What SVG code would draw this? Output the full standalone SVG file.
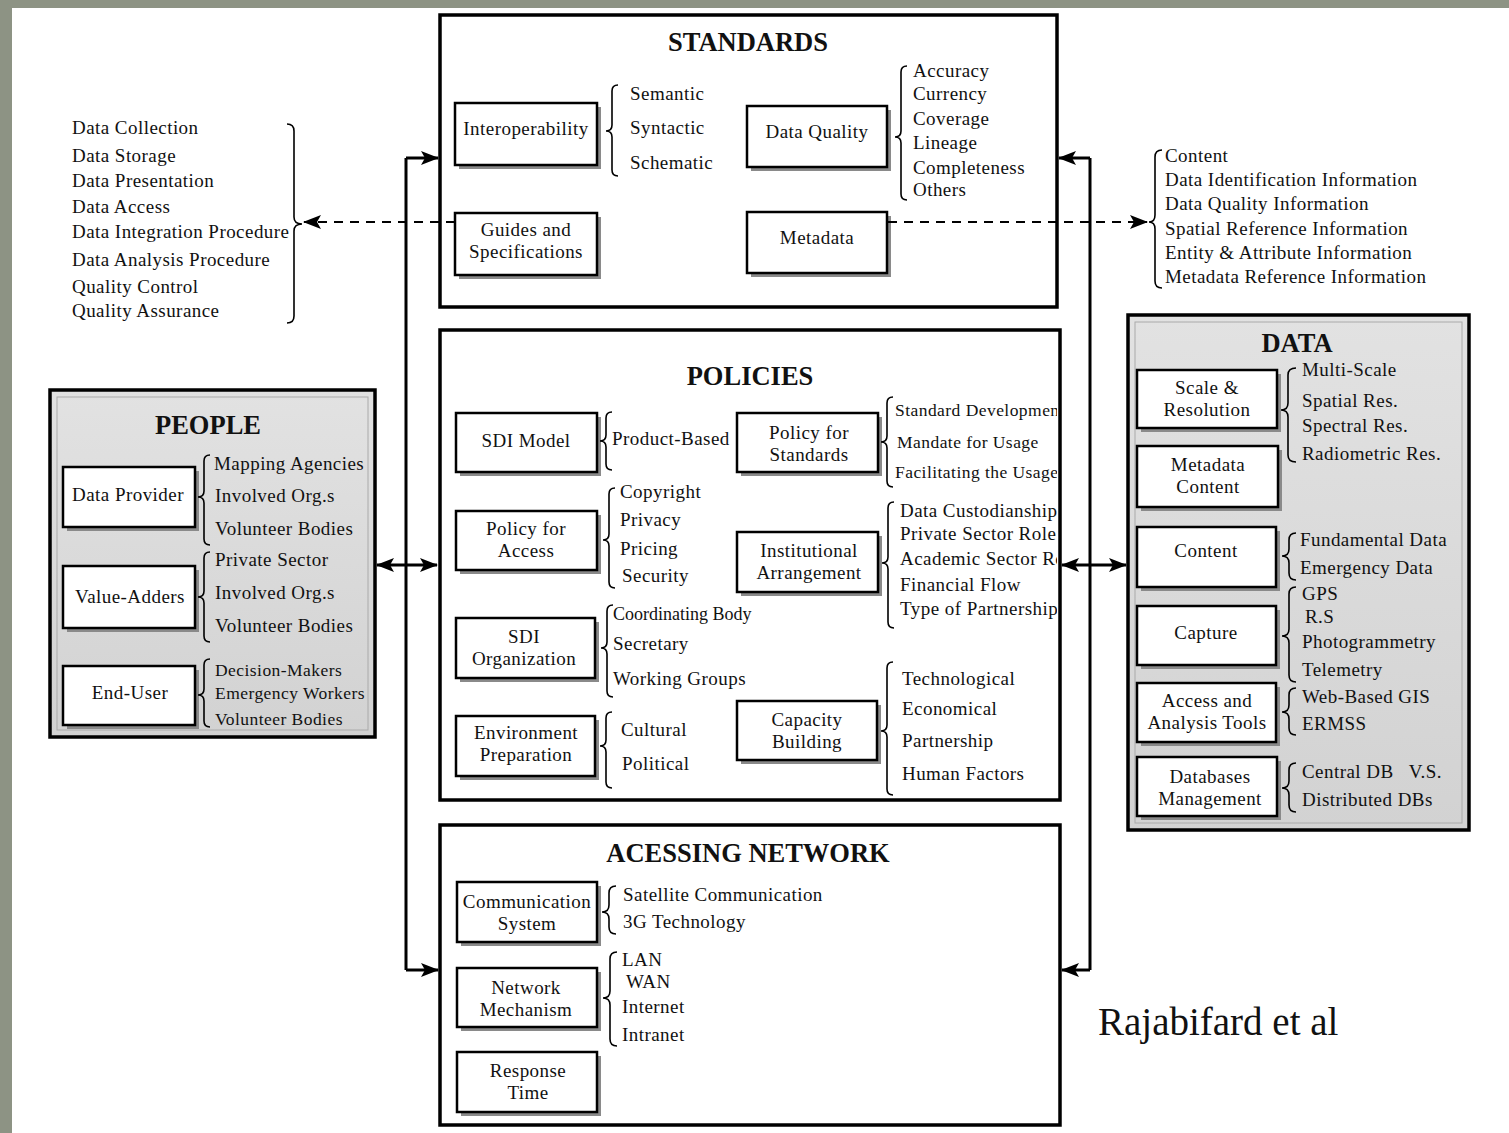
<svg xmlns="http://www.w3.org/2000/svg" width="1509" height="1133" viewBox="0 0 1509 1133">
<style>
.t{font-family:"Liberation Serif","Times New Roman",serif;font-size:19px;letter-spacing:0.45px;fill:#111}
.n{font-family:"Liberation Serif","Times New Roman",serif;font-size:19px;letter-spacing:0.45px;fill:#111;text-anchor:middle}
.s{font-size:17.5px}
.h{font-family:"Liberation Serif","Times New Roman",serif;font-size:26.5px;font-weight:bold;fill:#111;text-anchor:middle}
.outer{fill:#fff;stroke:#000;stroke-width:3.5}
.grey{fill:#d8d8d8;stroke:#000;stroke-width:3.5}
.inner{fill:none;stroke:#aaa;stroke-width:1}
.box{fill:#fff;stroke:#000;stroke-width:2.5}
.sh{fill:#8a8a8a}
.br{fill:none;stroke:#000;stroke-width:1.6}
.con{fill:none;stroke:#000;stroke-width:3}
.dash{fill:none;stroke:#000;stroke-width:2;stroke-dasharray:9 7}
</style>
<defs>
<marker id="ah" markerUnits="userSpaceOnUse" markerWidth="18" markerHeight="14" refX="17" refY="7" orient="auto-start-reverse">
<path d="M0,0 L18,7 L0,14 L4,7 Z" fill="#000"/>
</marker>
<linearGradient id="gg" x1="0" y1="0" x2="0" y2="1">
<stop offset="0" stop-color="#e2e2e2"/><stop offset="1" stop-color="#d2d2d2"/>
</linearGradient>
<clipPath id="cpPol"><rect x="440" y="330" width="617" height="470"/></clipPath>
<clipPath id="cpPeo"><rect x="50" y="390" width="319" height="347"/></clipPath>
</defs>
<rect x="0" y="0" width="1509" height="1133" fill="#8d9384"/>
<rect x="12" y="8" width="1497" height="1125" fill="#fff"/>

<g id="processes">
<text class="t" x="72" y="134">Data Collection</text>
<text class="t" x="72" y="162">Data Storage</text>
<text class="t" x="72" y="187">Data Presentation</text>
<text class="t" x="72" y="213">Data Access</text>
<text class="t" x="72" y="238">Data Integration Procedure</text>
<text class="t" x="72" y="266">Data Analysis Procedure</text>
<text class="t" x="72" y="293">Quality Control</text>
<text class="t" x="72" y="317">Quality Assurance</text>
<path class="br" d="M287,124 Q294,124 294,131 L294,217 Q294,224 302,224 Q294,224 294,231 L294,316 Q294,323 287,323"/>
</g>

<g id="metadata-elements">
<path class="br" d="M1162,150 Q1155,150 1155,157 L1155,215 Q1155,222 1149,222 Q1155,222 1155,229 L1155,281 Q1155,288 1162,288"/>
<text class="t" x="1165" y="162">Content</text>
<text class="t" x="1165" y="186">Data Identification Information</text>
<text class="t" x="1165" y="210">Data Quality Information</text>
<text class="t" x="1165" y="235">Spatial Reference Information</text>
<text class="t" x="1165" y="259">Entity &amp; Attribute Information</text>
<text class="t" x="1165" y="283">Metadata Reference Information</text>
</g>

<g id="standards">
<rect class="outer" x="440" y="15" width="617" height="292"/>
<text class="h" x="748" y="51">STANDARDS</text>
<g id="interoperability">
<rect class="sh" x="459" y="107" width="142" height="62"/><rect class="box" x="455" y="103" width="142" height="62"/>
<text class="n" x="526" y="135">Interoperability</text>
</g>
<path class="br" d="M618,85 Q612,85 612,91 L612,125 Q612,131 606,131 Q612,131 612,137 L612,170 Q612,176 618,176"/>
<text class="t" x="630" y="100">Semantic</text>
<text class="t" x="630" y="134">Syntactic</text>
<text class="t" x="630" y="169">Schematic</text>
<g id="guides">
<rect class="sh" x="459" y="217" width="142" height="62"/><rect class="box" x="455" y="213" width="142" height="62"/>
<text class="n" x="526" y="236">Guides and</text><text class="n" x="526" y="258">Specifications</text>
</g>
<g id="data-quality">
<rect class="sh" x="751" y="110" width="140" height="61"/><rect class="box" x="747" y="106" width="140" height="61"/>
<text class="n" x="817" y="138">Data Quality</text>
</g>
<path class="br" d="M907,66 Q901,66 901,72 L901,131 Q901,137 895,137 Q901,137 901,143 L901,194 Q901,200 907,200"/>
<text class="t" x="913" y="77">Accuracy</text>
<text class="t" x="913" y="100">Currency</text>
<text class="t" x="913" y="125">Coverage</text>
<text class="t" x="913" y="149">Lineage</text>
<text class="t" x="913" y="174">Completeness</text>
<text class="t" x="913" y="196">Others</text>
<g id="metadata">
<rect class="sh" x="751" y="216" width="140" height="61"/><rect class="box" x="747" y="212" width="140" height="61"/>
<text class="n" x="817" y="244">Metadata</text>
</g>
</g>

<g id="policies">
<rect class="outer" x="440" y="330" width="620" height="470"/>
<text class="h" x="750" y="385">POLICIES</text>
<g id="sdi-model">
<rect class="sh" x="460" y="417" width="141" height="59"/><rect class="box" x="456" y="413" width="141" height="59"/>
<text class="n" x="526" y="447">SDI Model</text>
</g>
<path class="br" d="M612,412 Q606,412 606,418 L606,435 Q606,441 600,441 Q606,441 606,447 L606,464 Q606,470 612,470"/>
<text class="t" x="612" y="445">Product-Based</text>
<g id="policy-access">
<rect class="sh" x="460" y="515" width="141" height="59"/><rect class="box" x="456" y="511" width="141" height="59"/>
<text class="n" x="526" y="535">Policy for</text><text class="n" x="526" y="557">Access</text>
</g>
<path class="br" d="M615,488 Q609,488 609,494 L609,534 Q609,540 603,540 Q609,540 609,546 L609,582 Q609,588 615,588"/>
<text class="t" x="620" y="498">Copyright</text>
<text class="t" x="620" y="526">Privacy</text>
<text class="t" x="620" y="555">Pricing</text>
<text class="t" x="622" y="582">Security</text>
<g id="sdi-organization">
<rect class="sh" x="460" y="622" width="139" height="60"/><rect class="box" x="456" y="618" width="139" height="60"/>
<text class="n" x="524" y="643">SDI</text><text class="n" x="524" y="665">Organization</text>
</g>
<path class="br" d="M613,605 Q607,605 607,611 L607,642 Q607,648 601,648 Q607,648 607,654 L607,691 Q607,697 613,697"/>
<text class="t" x="613" y="620" style="font-size:18px;letter-spacing:0">Coordinating Body</text>
<text class="t" x="613" y="650">Secretary</text>
<text class="t" x="613" y="685">Working Groups</text>
<g id="environment-preparation">
<rect class="sh" x="460" y="720" width="139" height="60"/><rect class="box" x="456" y="716" width="139" height="60"/>
<text class="n" x="526" y="739">Environment</text><text class="n" x="526" y="761">Preparation</text>
</g>
<path class="br" d="M612,712 Q606,712 606,718 L606,740 Q606,746 600,746 Q606,746 606,752 L606,782 Q606,788 612,788"/>
<text class="t" x="621" y="736">Cultural</text>
<text class="t" x="622" y="770">Political</text>
<g id="policy-standards">
<rect class="sh" x="741" y="417" width="141" height="59"/><rect class="box" x="737" y="413" width="141" height="59"/>
<text class="n" x="809" y="439">Policy for</text><text class="n" x="809" y="461">Standards</text>
</g>
<path class="br" d="M893,397 Q887,397 887,403 L887,436 Q887,442 881,442 Q887,442 887,448 L887,481 Q887,487 893,487"/>
<g clip-path="url(#cpPol)">
<text class="t s" x="895" y="416">Standard Development</text>
<text class="t s" x="897" y="448">Mandate for Usage</text>
<text class="t s" x="895" y="478">Facilitating the Usage</text>
<text class="t" x="900" y="517">Data Custodianship</text>
<text class="t" x="900" y="540">Private Sector Role</text>
<text class="t" x="900" y="565">Academic Sector Role</text>
<text class="t" x="900" y="591">Financial Flow</text>
<text class="t" x="900" y="615">Type of Partnership</text>
</g>
<g id="institutional-arrangement">
<rect class="sh" x="741" y="536" width="141" height="60"/><rect class="box" x="737" y="532" width="141" height="60"/>
<text class="n" x="809" y="557">Institutional</text><text class="n" x="809" y="579">Arrangement</text>
</g>
<path class="br" d="M894,502 Q888,502 888,508 L888,557 Q888,563 882,563 Q888,563 888,569 L888,622 Q888,628 894,628"/>
<g id="capacity-building">
<rect class="sh" x="741" y="705" width="140" height="59"/><rect class="box" x="737" y="701" width="140" height="59"/>
<text class="n" x="807" y="726">Capacity</text><text class="n" x="807" y="748">Building</text>
</g>
<path class="br" d="M893,662 Q887,662 887,668 L887,725 Q887,731 881,731 Q887,731 887,737 L887,789 Q887,795 893,795"/>
<text class="t" x="902" y="685">Technological</text>
<text class="t" x="902" y="715">Economical</text>
<text class="t" x="902" y="747">Partnership</text>
<text class="t" x="902" y="780">Human Factors</text>
</g>

<g id="people">
<rect class="grey" x="50" y="390" width="325" height="347" style="fill:url(#gg)"/>
<rect class="inner" x="57" y="397" width="311" height="333"/>
<text class="h" x="208" y="434">PEOPLE</text>
<g id="data-provider">
<rect class="sh" x="67" y="471" width="132" height="60"/><rect class="box" x="63" y="467" width="132" height="60"/>
<text class="n" x="128" y="501">Data Provider</text>
</g>
<path class="br" d="M210,455 Q204,455 204,461 L204,491 Q204,497 198,497 Q204,497 204,503 L204,539 Q204,545 210,545"/>
<g clip-path="url(#cpPeo)">
<text class="t" x="214" y="470">Mapping Agencies</text>
</g>
<text class="t" x="215" y="502">Involved Org.s</text>
<text class="t" x="215" y="535">Volunteer Bodies</text>
<g id="value-adders">
<rect class="sh" x="67" y="570" width="132" height="62"/><rect class="box" x="63" y="566" width="132" height="62"/>
<text class="n" x="130" y="603">Value-Adders</text>
</g>
<path class="br" d="M210,552 Q204,552 204,558 L204,591 Q204,597 198,597 Q204,597 204,603 L204,636 Q204,642 210,642"/>
<text class="t" x="215" y="566">Private Sector</text>
<text class="t" x="215" y="599">Involved Org.s</text>
<text class="t" x="215" y="632">Volunteer Bodies</text>
<g id="end-user">
<rect class="sh" x="67" y="670" width="132" height="59"/><rect class="box" x="63" y="666" width="132" height="59"/>
<text class="n" x="130" y="699">End-User</text>
</g>
<path class="br" d="M210,659 Q204,659 204,665 L204,689 Q204,695 198,695 Q204,695 204,701 L204,721 Q204,727 210,727"/>
<text class="t s" x="215" y="676">Decision-Makers</text>
<text class="t s" x="215" y="699">Emergency Workers</text>
<text class="t s" x="215" y="725">Volunteer Bodies</text>
</g>

<g id="data">
<rect class="grey" x="1128" y="315" width="341" height="515" style="fill:url(#gg)"/>
<rect class="inner" x="1135" y="322" width="327" height="501"/>
<text class="h" x="1297" y="352">DATA</text>
<g id="scale-resolution">
<rect class="sh" x="1141" y="374" width="140" height="58"/><rect class="box" x="1137" y="370" width="140" height="58"/>
<text class="n" x="1207" y="394">Scale &amp;</text><text class="n" x="1207" y="416">Resolution</text>
</g>
<path class="br" d="M1296,368 Q1288,368 1288,375 L1288,403 Q1288,410 1281,410 Q1288,410 1288,417 L1288,455 Q1288,462 1296,462"/>
<text class="t" x="1302" y="376">Multi-Scale</text>
<text class="t" x="1302" y="407">Spatial Res.</text>
<text class="t" x="1302" y="432">Spectral Res.</text>
<text class="t" x="1302" y="460">Radiometric Res.</text>
<g id="metadata-content">
<rect class="sh" x="1141" y="450" width="141" height="61"/><rect class="box" x="1137" y="446" width="141" height="61"/>
<text class="n" x="1208" y="471">Metadata</text><text class="n" x="1208" y="493">Content</text>
</g>
<g id="content">
<rect class="sh" x="1141" y="531" width="139" height="60"/><rect class="box" x="1137" y="527" width="139" height="60"/>
<text class="n" x="1206" y="557">Content</text>
</g>
<path class="br" d="M1296,533 Q1289,533 1289,540 L1289,549 Q1289,556 1282,556 Q1289,556 1289,563 L1289,573 Q1289,580 1296,580"/>
<text class="t" x="1300" y="546">Fundamental Data</text>
<text class="t" x="1300" y="574">Emergency Data</text>
<g id="capture">
<rect class="sh" x="1141" y="610" width="139" height="59"/><rect class="box" x="1137" y="606" width="139" height="59"/>
<text class="n" x="1206" y="639">Capture</text>
</g>
<path class="br" d="M1296,587 Q1289,587 1289,594 L1289,629 Q1289,636 1282,636 Q1289,636 1289,643 L1289,675 Q1289,682 1296,682"/>
<text class="t" x="1302" y="600">GPS</text>
<text class="t" x="1305" y="623">R.S</text>
<text class="t" x="1302" y="648">Photogrammetry</text>
<text class="t" x="1302" y="676">Telemetry</text>
<g id="access-analysis-tools">
<rect class="sh" x="1141" y="687" width="139" height="59"/><rect class="box" x="1137" y="683" width="139" height="59"/>
<text class="n" x="1207" y="707">Access and</text><text class="n" x="1207" y="729">Analysis Tools</text>
</g>
<path class="br" d="M1296,688 Q1289,688 1289,695 L1289,705 Q1289,712 1282,712 Q1289,712 1289,719 L1289,728 Q1289,735 1296,735"/>
<text class="t" x="1302" y="703">Web-Based GIS</text>
<text class="t" x="1302" y="730">ERMSS</text>
<g id="databases-management">
<rect class="sh" x="1141" y="761" width="140" height="59"/><rect class="box" x="1137" y="757" width="140" height="59"/>
<text class="n" x="1210" y="783">Databases</text><text class="n" x="1210" y="805">Management</text>
</g>
<path class="br" d="M1296,763 Q1289,763 1289,770 L1289,781 Q1289,788 1282,788 Q1289,788 1289,795 L1289,805 Q1289,812 1296,812"/>
<text class="t" x="1302" y="778" xml:space="preserve">Central DB   V.S.</text>
<text class="t" x="1302" y="806">Distributed DBs</text>
</g>

<g id="accessing-network">
<rect class="outer" x="440" y="825" width="620" height="300"/>
<text class="h" x="748" y="862">ACESSING NETWORK</text>
<g id="communication-system">
<rect class="sh" x="461" y="886" width="140" height="60"/><rect class="box" x="457" y="882" width="140" height="60"/>
<text class="n" x="527" y="908">Communication</text><text class="n" x="527" y="930">System</text>
</g>
<path class="br" d="M616,886 Q609,886 609,893 L609,905 Q609,912 602,912 Q609,912 609,919 L609,927 Q609,934 616,934"/>
<text class="t" x="623" y="901">Satellite Communication</text>
<text class="t" x="623" y="928">3G Technology</text>
<g id="network-mechanism">
<rect class="sh" x="461" y="972" width="140" height="59"/><rect class="box" x="457" y="968" width="140" height="59"/>
<text class="n" x="526" y="994">Network</text><text class="n" x="526" y="1016">Mechanism</text>
</g>
<path class="br" d="M617,952 Q610,952 610,959 L610,991 Q610,998 603,998 Q610,998 610,1005 L610,1039 Q610,1046 617,1046"/>
<text class="t" x="622" y="966">LAN</text>
<text class="t" x="626" y="988">WAN</text>
<text class="t" x="622" y="1013">Internet</text>
<text class="t" x="622" y="1041">Intranet</text>
<g id="response-time">
<rect class="sh" x="461" y="1056" width="140" height="60"/><rect class="box" x="457" y="1052" width="140" height="60"/>
<text class="n" x="528" y="1077">Response</text><text class="n" x="528" y="1099">Time</text>
</g>
</g>

<g id="connectors">
<path class="con" d="M406,158 V970"/>
<path class="con" d="M406,158 H438" marker-end="url(#ah)"/>
<path class="con" d="M406,970 H438" marker-end="url(#ah)"/>
<path class="con" d="M377,565 H437" marker-start="url(#ah)" marker-end="url(#ah)"/>
<path class="con" d="M1090,158 V970"/>
<path class="con" d="M1090,158 H1059" marker-end="url(#ah)"/>
<path class="con" d="M1090,970 H1062" marker-end="url(#ah)"/>
<path class="con" d="M1062,565 H1126" marker-start="url(#ah)" marker-end="url(#ah)"/>
<path class="dash" d="M455,222 H304" marker-end="url(#ah)"/>
<path class="dash" d="M888,222 H1147" marker-end="url(#ah)"/>
</g>

<text x="1098" y="1035" style="font-family:'Liberation Serif','Times New Roman',serif;font-size:39px;fill:#111">Rajabifard et al</text>
</svg>
